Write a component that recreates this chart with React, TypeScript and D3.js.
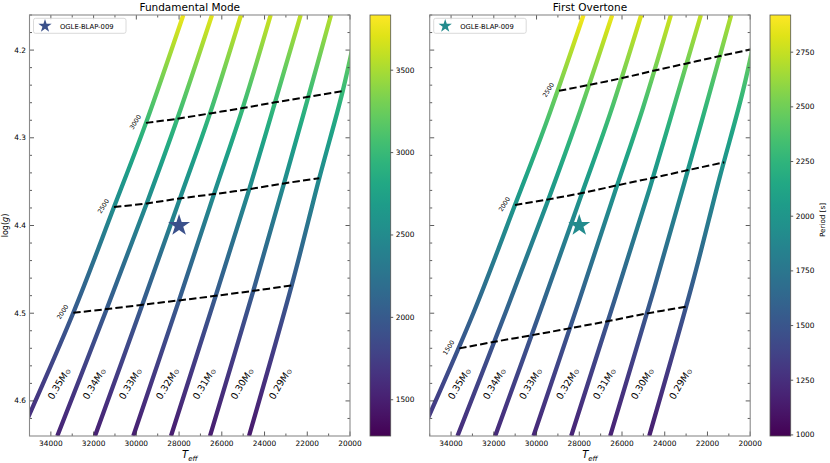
import * as d3 from "d3";
import React from "react";

// stellar masses of the tracks (M_sun)
const masses = ["0.35", "0.34", "0.33", "0.32", "0.31", "0.30", "0.29"];

// evolutionary tracks, [Teff, log g]
const track035 = [[35450, 4.64], [32950, 4.4995], [31045, 4.379], [29548, 4.283], [27802, 4.16]];
const track034 = [[33699, 4.64], [31387, 4.4953], [29515, 4.3748], [28083, 4.2783], [26459, 4.16]];
const track033 = [[31935, 4.64], [29721, 4.4904], [27957, 4.3691], [26553, 4.2722], [25102, 4.16]];
const track032 = [[30142, 4.64], [28003, 4.4854], [26365, 4.3642], [25022, 4.2661], [23712, 4.16]];
const track031 = [[28378, 4.64], [26286, 4.4802], [24713, 4.3585], [23511, 4.2596], [22308, 4.16]];
const track030 = [[26553, 4.64], [24526, 4.4745], [23089, 4.352], [21952, 4.2533], [20890, 4.16]];
const track029 = [[24727, 4.64], [22729, 4.4683], [21437, 4.346], [20342, 4.2468], [19560, 4.16]];
const tracks = [track035, track034, track033, track032, track031, track030, track029];

// period along each track, [log g, period (s)] - fundamental mode
const fundPeriods = [
  [[4.64, 1570], [4.4995, 2000], [4.379, 2500], [4.283, 3000], [4.16, 3770]],
  [[4.64, 1533], [4.4953, 2000], [4.3748, 2500], [4.2783, 3000], [4.16, 3730]],
  [[4.64, 1517], [4.4904, 2000], [4.3691, 2500], [4.2722, 3000], [4.16, 3690]],
  [[4.64, 1504], [4.4854, 2000], [4.3642, 2500], [4.2661, 3000], [4.16, 3650]],
  [[4.64, 1489], [4.4802, 2000], [4.3585, 2500], [4.2596, 3000], [4.16, 3605]],
  [[4.64, 1475], [4.4745, 2000], [4.352, 2500], [4.2533, 3000], [4.16, 3565]],
  [[4.64, 1458], [4.4683, 2000], [4.346, 2500], [4.2468, 3000], [4.16, 3525]],
];

// period along each track - first overtone
const overPeriods = [
  [[4.64, 1256], [4.5401, 1500], [4.3767, 2000], [4.2464, 2500], [4.16, 2900]],
  [[4.64, 1240], [4.5326, 1500], [4.3702, 2000], [4.2399, 2500], [4.16, 2870]],
  [[4.64, 1223], [4.525, 1500], [4.3627, 2000], [4.2316, 2500], [4.16, 2830]],
  [[4.64, 1207], [4.5173, 1500], [4.3539, 2000], [4.2236, 2500], [4.16, 2790]],
  [[4.64, 1190], [4.509, 1500], [4.3456, 2000], [4.2152, 2500], [4.16, 2750]],
  [[4.64, 1171], [4.5002, 1500], [4.3368, 2000], [4.2068, 2500], [4.16, 2710]],
  [[4.64, 1156], [4.4927, 1500], [4.328, 2000], [4.1989, 2500], [4.16, 2675]],
];

// iso-period lines [Teff, log g]
const fundIsoPeriods = [2000, 2500, 3000];
const fundIsoPoints = [
  [[32950, 4.4995], [31387, 4.4953], [29721, 4.4904], [28003, 4.4854], [26286, 4.4802], [24526, 4.4745], [22729, 4.4683]],
  [[31045, 4.379], [29515, 4.3748], [27957, 4.3691], [26365, 4.3642], [24713, 4.3585], [23089, 4.352], [21437, 4.346]],
  [[29548, 4.283], [28083, 4.2783], [26553, 4.2722], [25022, 4.2661], [23511, 4.2596], [21952, 4.2533], [20342, 4.2468]],
];
const overIsoPeriods = [1500, 2000, 2500];
const overIsoPoints = [
  [[33615, 4.5401], [31977, 4.5326], [30198, 4.525], [28467, 4.5173], [26642, 4.509], [24816, 4.5002], [23019, 4.4927]],
  [[31008, 4.3767], [29450, 4.3702], [27812, 4.3627], [26174, 4.3539], [24536, 4.3456], [22898, 4.3368], [21213, 4.328]],
  [[28949, 4.2464], [27578, 4.2399], [25940, 4.2316], [24536, 4.2236], [22972, 4.2152], [21414, 4.2068], [19902, 4.1989]],
];

// OGLE-BLAP-009
const starTeff = 28000;
const starLogg = 4.4;
const starPeriod = 1916;

const xTicks = [34000, 32000, 30000, 28000, 26000, 24000, 22000, 20000];
const xMinor = [35000, 33000, 31000, 29000, 27000, 25000, 23000, 21000];
const yTicks = [4.2, 4.3, 4.4, 4.5, 4.6];
const yMinor = [4.16, 4.18, 4.22, 4.24, 4.26, 4.28, 4.32, 4.34, 4.36, 4.38, 4.42, 4.44, 4.46, 4.48, 4.52, 4.54, 4.56, 4.58, 4.62];
const fundCbTicks = [1500, 2000, 2500, 3000, 3500];
const overCbTicks = [1000, 1250, 1500, 1750, 2000, 2250, 2500, 2750];

const FONT = "DejaVu Sans, sans-serif";
const TOP = 15;
const BOTTOM = 436;
const PW = 320.5;

type P = {
  id: string;
  left: number;
  cbLeft: number;
  title: string;
  periods: number[][][];
  isoPeriods: number[];
  isoPoints: number[][][];
  cbDomain: [number, number];
  cbTicks: number[];
  yLabels: boolean;
  cbLabel: boolean;
};

function Panel(p: P) {
  const x = d3.scaleLinear().domain([35000, 20000]).range([p.left, p.left + PW]);
  const y = d3.scaleLinear().domain([4.16, 4.64]).range([TOP, BOTTOM]);
  const cnorm = d3.scaleLinear().domain(p.cbDomain).range([0, 1]).clamp(true);
  const cy = d3.scaleLinear().domain(p.cbDomain).range([BOTTOM, TOP]);
  const color = (v: number) => d3.interpolateViridis(cnorm(v));
  const line = d3
    .line<number[]>()
    .x((d) => x(d[0]))
    .y((d) => y(d[1]))
    .curve(d3.curveCatmullRom);
  const iso = d3
    .line<number[]>()
    .x((d) => x(d[0]))
    .y((d) => y(d[1]))
    .curve(d3.curveCatmullRom);
  const off = (g: number) => (g - 4.64) / (4.16 - 4.64);
  const star = d3.symbol(d3.symbolStar, 150)();
  const legStar = d3.symbol(d3.symbolStar, 55)();
  const cbW = 20.7;
  const right = p.left + PW;
  const mid = p.left + PW / 2;

  return (
    <g fontFamily={FONT}>
      <defs>
        <clipPath id={`${p.id}-clip`}>
          <rect x={p.left} y={TOP} width={PW} height={BOTTOM - TOP} />
        </clipPath>
        {p.periods.map((stops, i) => (
          <linearGradient
            key={i}
            id={`${p.id}-g${i}`}
            gradientUnits="userSpaceOnUse"
            x1={0}
            x2={0}
            y1={y(4.64)}
            y2={y(4.16)}
          >
            {stops.flatMap((s, k) => {
              const out = [<stop key={`${k}`} offset={off(s[0])} stopColor={color(s[1])} />];
              if (k < stops.length - 1) {
                const n = stops[k + 1];
                [0.25, 0.5, 0.75].forEach((t) => {
                  const g = s[0] + (n[0] - s[0]) * t;
                  const v = s[1] * Math.pow(n[1] / s[1], t);
                  out.push(<stop key={`${k}-${t}`} offset={off(g)} stopColor={color(v)} />);
                });
              }
              return out;
            })}
          </linearGradient>
        ))}
        <linearGradient id={`${p.id}-cb`} x1="0" x2="0" y1="1" y2="0">
          {d3.range(0, 1.0001, 0.05).map((t) => (
            <stop key={t} offset={t} stopColor={d3.interpolateViridis(t)} />
          ))}
        </linearGradient>
      </defs>

      <rect x={p.left} y={TOP} width={PW} height={BOTTOM - TOP} fill="#fff" />

      <g clipPath={`url(#${p.id}-clip)`}>
        {tracks.map((t, i) => (
          <path
            key={i}
            d={line(t) ?? ""}
            fill="none"
            stroke={`url(#${p.id}-g${i})`}
            strokeWidth={4.3}
          />
        ))}
        {p.isoPoints.map((pts, i) => (
          <path
            key={i}
            d={iso(pts) ?? ""}
            fill="none"
            stroke="#000"
            strokeWidth={2}
            strokeDasharray="7.4,3.2"
          />
        ))}
        <path
          d={star ?? ""}
          transform={`translate(${x(starTeff)},${y(starLogg)})`}
          fill={color(starPeriod)}
        />
      </g>

      {p.isoPoints.map((pts, i) => (
        <text
          key={i}
          transform={`translate(${x(pts[0][0]) - 11},${y(pts[0][1]) - 1}) rotate(-58)`}
          fontSize={6.2}
          textAnchor="middle"
          dominantBaseline="central"
        >
          {p.isoPeriods[i]}
        </text>
      ))}

      {tracks.map((t, i) => {
        const a = t[0];
        const b = t[1];
        const f = (4.58 - a[1]) / (b[1] - a[1]);
        const tx = x(a[0] + (b[0] - a[0]) * f) + 16;
        return (
          <text
            key={i}
            transform={`translate(${tx},${y(4.58)}) rotate(-60)`}
            fontSize={9.5}
            textAnchor="middle"
            dominantBaseline="central"
          >
            {masses[i]}
            <tspan fontStyle="italic">M</tspan>
            <tspan fontSize={6.5} dy={2.5}>⊙</tspan>
          </text>
        );
      })}

      {/* ticks on all four sides, pointing in */}
      <g stroke="#333" strokeWidth={0.8}>
        {xTicks.map((v) => (
          <g key={v}>
            <line x1={x(v)} x2={x(v)} y1={BOTTOM} y2={BOTTOM - 4.5} />
            <line x1={x(v)} x2={x(v)} y1={TOP} y2={TOP + 4.5} />
          </g>
        ))}
        {xMinor.map((v) => (
          <g key={v}>
            <line x1={x(v)} x2={x(v)} y1={BOTTOM} y2={BOTTOM - 2.5} />
            <line x1={x(v)} x2={x(v)} y1={TOP} y2={TOP + 2.5} />
          </g>
        ))}
        {yTicks.map((v) => (
          <g key={v}>
            <line x1={p.left} x2={p.left + 4.5} y1={y(v)} y2={y(v)} />
            <line x1={right} x2={right - 4.5} y1={y(v)} y2={y(v)} />
          </g>
        ))}
        {yMinor.map((v) => (
          <g key={v}>
            <line x1={p.left} x2={p.left + 2.5} y1={y(v)} y2={y(v)} />
            <line x1={right} x2={right - 2.5} y1={y(v)} y2={y(v)} />
          </g>
        ))}
      </g>
      <rect
        x={p.left}
        y={TOP}
        width={PW}
        height={BOTTOM - TOP}
        fill="none"
        stroke="#8a8a8a"
        strokeWidth={1.1}
      />

      {xTicks.map((v) => (
        <text key={v} x={x(v)} y={BOTTOM + 9.5} fontSize={7.4} textAnchor="middle">
          {v}
        </text>
      ))}
      {p.yLabels &&
        yTicks.map((v) => (
          <text key={v} x={p.left - 3.5} y={y(v)} fontSize={7.4} textAnchor="end" dominantBaseline="central">
            {v.toFixed(1)}
          </text>
        ))}
      {p.yLabels && (
        <text transform={`translate(7.5,${(TOP + BOTTOM) / 2}) rotate(-90)`} fontSize={8} textAnchor="middle">
          log(<tspan fontStyle="italic">g</tspan>)
        </text>
      )}
      <text x={mid} y={458} fontSize={10} textAnchor="middle" fontStyle="italic">
        T<tspan fontSize={7} dy={2.5}>eff</tspan>
      </text>
      <text x={mid} y={10.5} fontSize={10.5} textAnchor="middle">
        {p.title}
      </text>

      {/* legend */}
      <rect
        x={p.left + 4}
        y={18.3}
        width={92.5}
        height={15}
        rx={2}
        fill="#fff"
        fillOpacity={0.8}
        stroke="#d0d0d0"
        strokeWidth={0.8}
      />
      <path d={legStar ?? ""} transform={`translate(${p.left + 15.5},26)`} fill={color(starPeriod)} />
      <text x={p.left + 30.5} y={28.6} fontSize={6.8}>
        OGLE-BLAP-009
      </text>

      {/* colorbar */}
      <rect x={p.cbLeft} y={TOP} width={cbW} height={BOTTOM - TOP} fill={`url(#${p.id}-cb)`} stroke="#555" strokeWidth={0.8} />
      {p.cbTicks.map((v) => (
        <g key={v}>
          <line x1={p.cbLeft + cbW} x2={p.cbLeft + cbW + 2.5} y1={cy(v)} y2={cy(v)} stroke="#333" strokeWidth={0.8} />
          <text x={p.cbLeft + cbW + 5} y={cy(v)} fontSize={7.4} dominantBaseline="central">
            {v}
          </text>
        </g>
      ))}
      {p.cbLabel && (
        <text transform={`translate(825,220) rotate(-90)`} fontSize={7.2} textAnchor="middle">
          Period [s]
        </text>
      )}
    </g>
  );
}

export default function App() {
  return (
    <svg
      width={830}
      height={463}
      viewBox="0 0 830 463"
      style={{ position: "absolute", left: 0, top: 0, background: "#fff" }}
    >
      <Panel
        id="fund"
        left={29.5}
        cbLeft={370}
        title="Fundamental Mode"
        periods={fundPeriods}
        isoPeriods={fundIsoPeriods}
        isoPoints={fundIsoPoints}
        cbDomain={[1280, 3835]}
        cbTicks={fundCbTicks}
        yLabels={true}
        cbLabel={false}
      />
      <Panel
        id="over"
        left={429.7}
        cbLeft={770}
        title="First Overtone"
        periods={overPeriods}
        isoPeriods={overIsoPeriods}
        isoPoints={overIsoPoints}
        cbDomain={[995, 2920]}
        cbTicks={overCbTicks}
        yLabels={false}
        cbLabel={true}
      />
    </svg>
  );
}
